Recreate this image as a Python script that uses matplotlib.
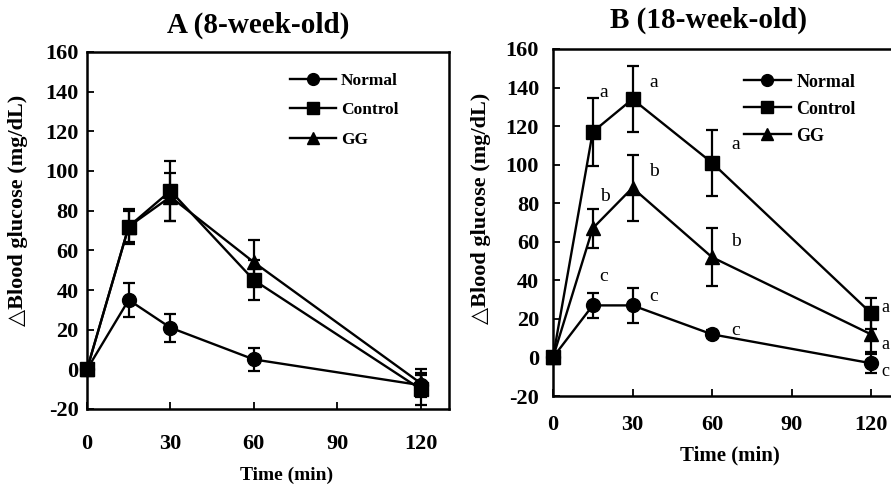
import numpy as np
import matplotlib
matplotlib.use("Agg")
import matplotlib.pyplot as plt
from matplotlib.lines import Line2D

plt.rcParams['font.family'] = ['Liberation Serif', 'DejaVu Serif']
plt.rcParams['font.weight'] = 'bold'
plt.rcParams['axes.unicode_minus'] = False

# time points (min)
time = [0, 15, 30, 60, 120]
groups = ["Normal", "Control", "GG"]
markers = ["o", "s", "^"]

# A (8-week-old)
a_normal = [0, 35, 21, 5, -8]
a_normal_err = [0, 8.5, 7, 6, 5]
a_control = [0, 72, 90, 45, -10]
a_control_err = [0, 8, 15, 10, 8]
a_gg = [0, 72, 87, 54, -7]
a_gg_err = [0, 9, 12, 11, 7]

# B (18-week-old)
b_normal = [0, 27, 27, 12, -3]
b_normal_err = [0, 6.5, 9, 2, 5]
b_control = [0, 117, 134, 101, 23]
b_control_err = [0, 17.5, 17, 17, 8]
b_gg = [0, 67, 88, 52, 12]
b_gg_err = [0, 10, 17, 15, 9]

# significance letters for B
b_normal_sig = ["", "c", "c", "c", "c"]
b_control_sig = ["", "a", "a", "a", "a"]
b_gg_sig = ["", "b", "b", "b", "a"]

fig = plt.figure(figsize=(8.91, 4.88), dpi=100)
axA = fig.add_axes([87/891, 1-409/488, 361.5/891, 357/488])
axB = fig.add_axes([553/891, 1-396/488, 344.5/891, 347/488])


def draw_panel(ax, series, errs, ms, tickpad_x, tickpad_y, legfs, legloc, legsp):
    handles = []
    for vals, err, mk, name in zip(series, errs, markers, groups):
        ax.errorbar(time, vals, yerr=err, fmt='-' + mk, color='black', ms=ms,
                    lw=1.7, elinewidth=1.6, capsize=4, capthick=1.6,
                    clip_on=False, zorder=3)
        handles.append(Line2D([], [], color='black', marker=mk, lw=1.7, ms=ms*0.85,
                              label=name))
    ax.set_xlim(0, 130)
    ax.set_ylim(-20, 160)
    ax.set_xticks([0, 30, 60, 90, 120])
    ax.set_yticks(np.arange(-20, 161, 20))
    ax.tick_params(direction='in', length=5, width=1.3, labelsize=16,
                   top=False, right=False)
    ax.tick_params(axis='x', pad=tickpad_x)
    ax.tick_params(axis='y', pad=tickpad_y)
    for s in ax.spines.values():
        s.set_linewidth(1.8)
    ax.legend(handles=handles, loc='upper right', bbox_to_anchor=legloc, frameon=False,
              fontsize=legfs, handlelength=2.6, labelspacing=legsp,
              handletextpad=0.3, borderaxespad=0.2)


draw_panel(axA, [a_normal, a_control, a_gg], [a_normal_err, a_control_err, a_gg_err],
           10, 18, 6, 12.5, (0.89, 0.97), 0.75)
draw_panel(axB, [b_normal, b_control, b_gg], [b_normal_err, b_control_err, b_gg_err],
           10, 14, 10, 13, (0.91, 0.96), 0.55)

ylab = '△Blood glucose (mg/dL)'
axA.set_ylabel(ylab, fontsize=16, fontweight='bold')
axA.yaxis.set_label_coords(-0.162, 0.556)
axB.set_ylabel(ylab, fontsize=16, fontweight='bold')
axB.yaxis.set_label_coords(-0.18, 0.54)

axA.set_xlabel('Time (min)', fontsize=14, fontweight='bold')
axA.xaxis.set_label_coords(0.553, -0.162)
axB.set_xlabel('Time (min)', fontsize=15, fontweight='bold')
axB.xaxis.set_label_coords(0.514, -0.142)

fig.text(258/891, 1-25/488, 'A (8-week-old)', fontsize=21, fontweight='bold',
         ha='center', va='center')
fig.text(708/891, 1-20/488, 'B (18-week-old)', fontsize=21, fontweight='bold',
         ha='center', va='center')

# letters in B (offsets in points, by time point)
dx_by_t = {15: 5, 30: 12, 60: 14}
dy_by_t = {15: 16, 30: 0, 60: 1}
for vals, err, sig in [(b_control, b_control_err, b_control_sig),
                       (b_gg, b_gg_err, b_gg_sig),
                       (b_normal, b_normal_err, b_normal_sig)]:
    for t, v, e, s in zip(time, vals, err, sig):
        if not s:
            continue
        if t == 120:
            dy = {23: 4, 12: -7, -3: -6}.get(v, 0)
            axB.annotate(s, (t, v), xytext=(7.5, dy), textcoords='offset points',
                         fontsize=13, fontweight='normal', ha='left', va='center',
                         annotation_clip=False)
        else:
            axB.annotate(s, (t, v + e * 0.5), xytext=(dx_by_t[t], dy_by_t[t]),
                         textcoords='offset points', fontsize=14, fontweight='normal',
                         ha='left', va='center', annotation_clip=False)

fig.savefig('out.png', dpi=100)
